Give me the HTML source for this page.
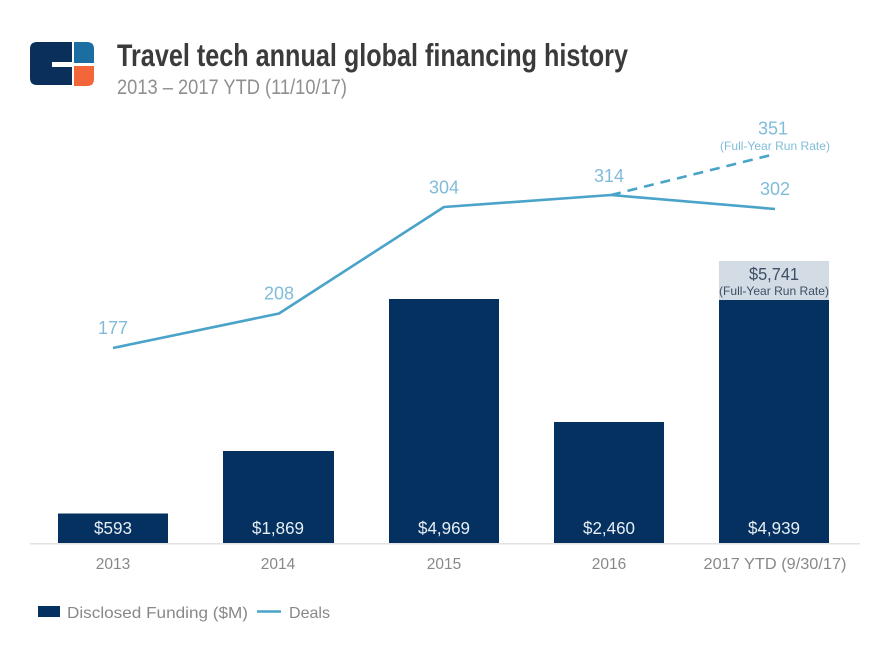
<!DOCTYPE html>
<html><head><meta charset="utf-8"><style>
html,body{margin:0;padding:0;background:#fff;}
svg{display:block;}
text{font-family:"Liberation Sans",sans-serif;}
</style></head><body>
<svg width="894" height="658" viewBox="0 0 894 658" xmlns="http://www.w3.org/2000/svg">
<rect width="894" height="658" fill="#fff"/>
<!-- logo -->
<path d="M37 42 H72 V62 H52 V67 H72 V85 H37 Q30 85 30 78 V49 Q30 42 37 42 Z" fill="#0b2f5b"/>
<path d="M74 42 H87 Q94 42 94 49 V63 H74 Z" fill="#1b6ea1"/>
<path d="M74 66 H94 V79 Q94 86 87 86 H74 Z" fill="#f2663a"/>
<!-- title -->
<text x="117" y="66" font-size="31.5" font-weight="bold" fill="#3b3b3b" textLength="511" lengthAdjust="spacingAndGlyphs">Travel tech annual global financing history</text>
<text x="117" y="94" font-size="21" fill="#8f8f8f" textLength="230" lengthAdjust="spacingAndGlyphs">2013 – 2017 YTD (11/10/17)</text>
<!-- bars -->
<g fill="#04315f">
<rect x="58" y="513.5" width="110" height="29.5"/>
<rect x="223" y="451" width="111" height="92"/>
<rect x="389" y="299" width="110" height="244"/>
<rect x="554" y="422" width="110" height="121"/>
<rect x="719" y="300" width="110" height="243"/>
</g>
<rect x="719" y="261" width="110" height="39" fill="#d3dbe4"/>
<!-- axis -->
<rect x="30" y="543" width="830" height="1.5" fill="#e2e2e2"/>
<!-- bar labels -->
<g font-size="17.5" fill="#e6edf4" text-anchor="middle">
<text x="113" y="534" textLength="38" lengthAdjust="spacingAndGlyphs">$593</text>
<text x="278" y="534" textLength="52" lengthAdjust="spacingAndGlyphs">$1,869</text>
<text x="444" y="534" textLength="52" lengthAdjust="spacingAndGlyphs">$4,969</text>
<text x="609" y="534" textLength="52" lengthAdjust="spacingAndGlyphs">$2,460</text>
<text x="774" y="534" textLength="52" lengthAdjust="spacingAndGlyphs">$4,939</text>
</g>
<text x="774" y="280" font-size="17.5" fill="#3c4f66" text-anchor="middle" textLength="50" lengthAdjust="spacingAndGlyphs">$5,741</text>
<text x="774" y="295" font-size="12" fill="#3c4f66" text-anchor="middle" textLength="110" lengthAdjust="spacingAndGlyphs">(Full-Year Run Rate)</text>
<!-- lines -->
<polyline points="113,348 279,313.5 444,207 611,195 775,209" fill="none" stroke="#4aa3c8" stroke-width="2.6" stroke-linejoin="round"/>
<line x1="611" y1="195" x2="775" y2="154" stroke="#4aa3c8" stroke-width="2.6" stroke-dasharray="10,7"/>
<!-- line labels -->
<g font-size="18" fill="#80bcd9" text-anchor="middle">
<text x="113" y="334">177</text>
<text x="279" y="299.5">208</text>
<text x="444" y="193.5">304</text>
<text x="609" y="182">314</text>
<text x="775" y="195">302</text>
<text x="773" y="134.5">351</text>
</g>
<text x="775" y="150" font-size="12" fill="#80bcd9" text-anchor="middle" textLength="110" lengthAdjust="spacingAndGlyphs">(Full-Year Run Rate)</text>
<!-- x labels -->
<g font-size="15.5" fill="#888888" text-anchor="middle">
<text x="113" y="569">2013</text>
<text x="278" y="569">2014</text>
<text x="444" y="569">2015</text>
<text x="609" y="569">2016</text>
<text x="775" y="569" textLength="143" lengthAdjust="spacingAndGlyphs">2017 YTD (9/30/17)</text>
</g>
<!-- legend -->
<rect x="38" y="606" width="22" height="11" fill="#04315f"/>
<text x="67" y="618" font-size="16" fill="#888888" textLength="181" lengthAdjust="spacingAndGlyphs">Disclosed Funding ($M)</text>
<line x1="257" y1="611.5" x2="281" y2="611.5" stroke="#4aa3c8" stroke-width="2.6"/>
<text x="289" y="618" font-size="16" fill="#888888" textLength="41" lengthAdjust="spacingAndGlyphs">Deals</text>
</svg>
</body></html>
